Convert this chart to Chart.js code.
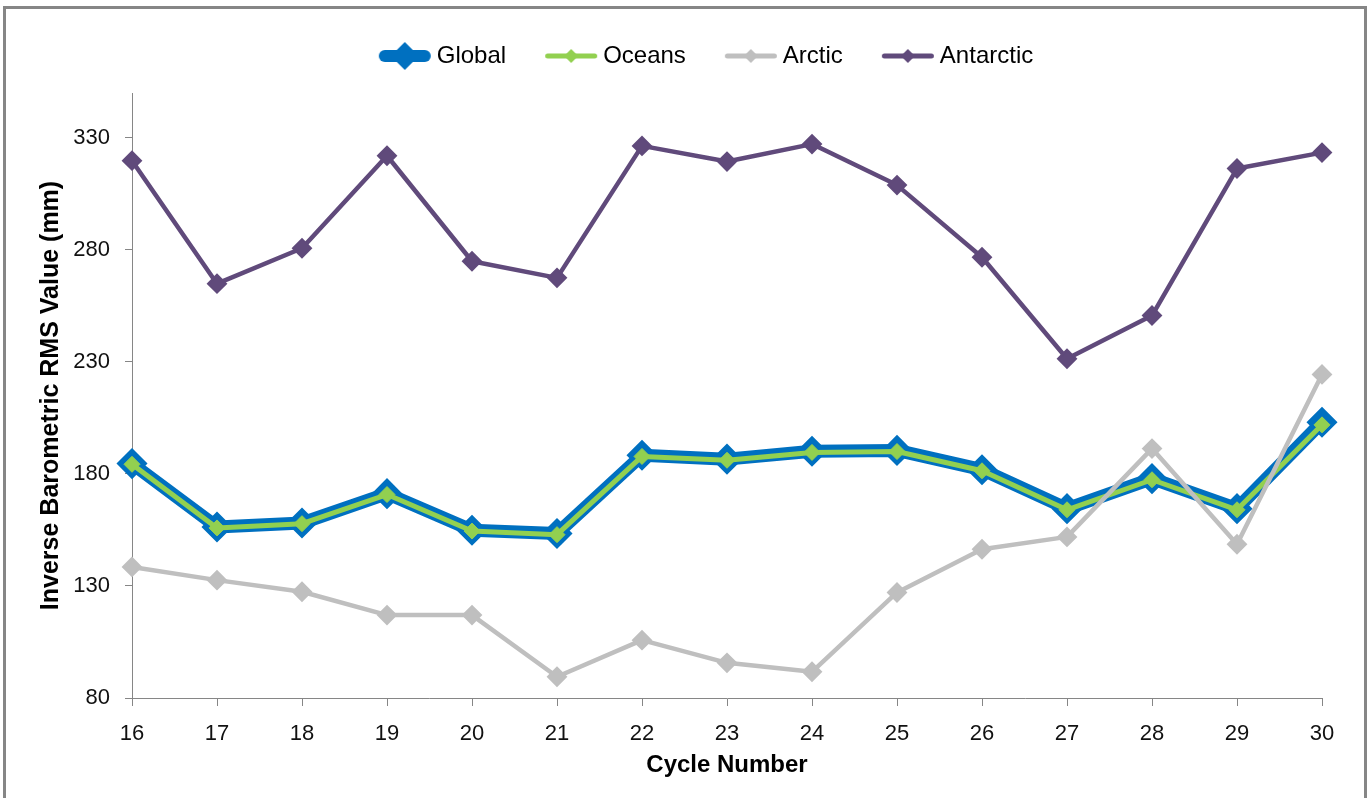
<!DOCTYPE html>
<html>
<head>
<meta charset="utf-8">
<title>Inverse Barometric RMS</title>
<script src="https://cdn.jsdelivr.net/npm/chart.js@4.4.1/dist/chart.umd.min.js"></script>
<style>
  html, body { margin: 0; padding: 0; background: #fff; }
  #wrap { position: relative; width: 1368px; height: 798px; overflow: hidden; }
  #frame {
    position: absolute; left: 3px; top: 6px; width: 1358px; height: 900px;
    border: 3px solid #868686; pointer-events: none;
  }
</style>
</head>
<body>
<div id="wrap">
  <canvas id="rmsChart" width="1368" height="798"></canvas>
  <div id="frame"></div>
</div>
<script>
// values
const cycles = ['16', '17', '18', '19', '20', '21', '22', '23', '24', '25', '26', '27', '28', '29', '30'];
const globalRms = [184.6, 156.3, 158.1, 171.2, 154.9, 153.4, 188.3, 186.6, 190.1, 190.5, 181.9, 164.5, 177.9, 164.5, 203.1];
const oceansRms = [184.3, 155.9, 157.8, 170.8, 154.5, 152.9, 187.8, 186.1, 189.6, 190.0, 181.4, 164.0, 177.4, 164.0, 201.9];
const arcticRms = [138.5, 132.6, 127.4, 117.0, 117.0, 89.5, 105.8, 95.7, 91.7, 127.1, 146.4, 151.9, 191.3, 148.6, 224.4];
const antarcticRms = [319.8, 264.9, 280.7, 322.0, 274.9, 267.5, 326.4, 319.4, 327.2, 308.9, 276.7, 231.4, 250.7, 316.3, 323.4];
const yTickValues = [80, 130, 180, 230, 280, 330];

const FONT = "'Liberation Sans', Arial, sans-serif";

// legend icon: a short line with a diamond in the middle, like Excel
function legendIcon(color, lineW, diamond) {
    const c = document.createElement('canvas');
    c.width = 56;
    c.height = 32;
    const g = c.getContext('2d');
    g.strokeStyle = color;
    g.fillStyle = color;
    g.lineWidth = lineW;
    g.lineCap = 'round';
    g.beginPath();
    g.moveTo(2 + lineW / 2, 16);
    g.lineTo(54 - lineW / 2, 16);
    g.stroke();
    g.beginPath();
    g.moveTo(28, 16 - diamond);
    g.lineTo(28 + diamond, 16);
    g.lineTo(28, 16 + diamond);
    g.lineTo(28 - diamond, 16);
    g.closePath();
    g.fill();
    return c;
}

const legendIcons = [
    legendIcon('#0070C0', 12, 14),
    legendIcon('#92D050', 5, 7),
    legendIcon('#BFBFBF', 5, 7),
    legendIcon('#604A7B', 5, 7)
];

// nudge the legend row so it sits where the original has it
const legendShift = {
    id: 'legendShift',
    afterLayout(chart) {
        const lg = chart.legend;
        const dx = 709 - (lg.left + lg.right) / 2;
        lg.left += dx;
        lg.right += dx;
        lg.top -= 15;
        lg.bottom -= 15;
    }
};

function createRmsChart() {
    const ctx = document.getElementById('rmsChart');

    const rmsData = {
        labels: cycles,
        datasets: [
            {
                label: 'Global',
                data: globalRms,
                borderColor: '#0070C0',
                backgroundColor: '#0070C0',
                borderWidth: 13,
                pointStyle: 'rectRot',
                pointRadius: 12,
                pointBorderWidth: 5,
                pointBorderColor: '#0070C0',
                pointBackgroundColor: '#0070C0',
                order: 4
            },
            {
                label: 'Oceans',
                data: oceansRms,
                borderColor: '#92D050',
                backgroundColor: '#92D050',
                borderWidth: 5,
                pointStyle: 'rectRot',
                pointRadius: 8,
                pointBorderWidth: 1,
                pointBorderColor: '#92D050',
                pointBackgroundColor: '#92D050',
                order: 3
            },
            {
                label: 'Arctic',
                data: arcticRms,
                borderColor: '#BFBFBF',
                backgroundColor: '#BFBFBF',
                borderWidth: 4.5,
                pointStyle: 'rectRot',
                pointRadius: 9,
                pointBorderWidth: 2,
                pointBorderColor: '#BFBFBF',
                pointBackgroundColor: '#BFBFBF',
                order: 2
            },
            {
                label: 'Antarctic',
                data: antarcticRms,
                borderColor: '#604A7B',
                backgroundColor: '#604A7B',
                borderWidth: 4.5,
                pointStyle: 'rectRot',
                pointRadius: 9,
                pointBorderWidth: 2,
                pointBorderColor: '#604A7B',
                pointBackgroundColor: '#604A7B',
                order: 1
            }
        ]
    };

    const chartOptions = {
        responsive: false,
        animation: false,
        layout: { padding: { left: 0, right: 46, top: 14, bottom: 0 } },
        elements: {
            line: { tension: 0, borderJoinStyle: 'round', borderCapStyle: 'round' }
        },
        datasets: { line: { clip: false } },
        scales: {
            x: {
                offset: false,
                afterFit: (s) => { s.height = 100; },
                grid: { offset: false, drawOnChartArea: false, drawTicks: true, tickLength: 8, color: '#868686' },
                border: { color: '#868686', width: 1 },
                ticks: { font: { family: FONT, size: 22 }, color: '#111', padding: 15, autoSkip: false, maxRotation: 0 },
                title: {
                    display: true,
                    text: 'Cycle Number',
                    font: { family: FONT, size: 24, weight: 'bold' },
                    color: '#000',
                    padding: { top: 0, bottom: 18 }
                }
            },
            y: {
                min: 80,
                max: 350,
                afterBuildTicks: (s) => { s.ticks = yTickValues.map(v => ({ value: v })); },
                afterFit: (s) => { s.width = 132; },
                grid: { drawOnChartArea: false, drawTicks: true, tickLength: 7, color: '#868686' },
                border: { color: '#868686', width: 1 },
                ticks: { font: { family: FONT, size: 22 }, color: '#111', padding: 15 },
                title: {
                    display: true,
                    text: 'Inverse Barometric RMS Value (mm)',
                    font: { family: FONT, size: 25, weight: 'bold' },
                    color: '#000',
                    padding: { top: 36, bottom: 0 }
                }
            }
        },
        plugins: {
            legend: {
                position: 'top',
                labels: {
                    usePointStyle: true,
                    pointStyleWidth: 40,
                    padding: 45,
                    color: '#000',
                    font: { family: FONT, size: 24 },
                    generateLabels: (chart) => chart.data.datasets.map((ds, i) => ({
                        text: ds.label,
                        pointStyle: legendIcons[i],
                        datasetIndex: i,
                        fillStyle: 'transparent',
                        strokeStyle: 'transparent',
                        lineWidth: 0,
                        hidden: false
                    }))
                }
            },
            tooltip: { enabled: false }
        }
    };

    new Chart(ctx, {
        type: 'line',
        data: rmsData,
        options: chartOptions,
        plugins: [legendShift]
    });
}

document.addEventListener('DOMContentLoaded', () => {
    createRmsChart();
});
</script>
</body>
</html>
